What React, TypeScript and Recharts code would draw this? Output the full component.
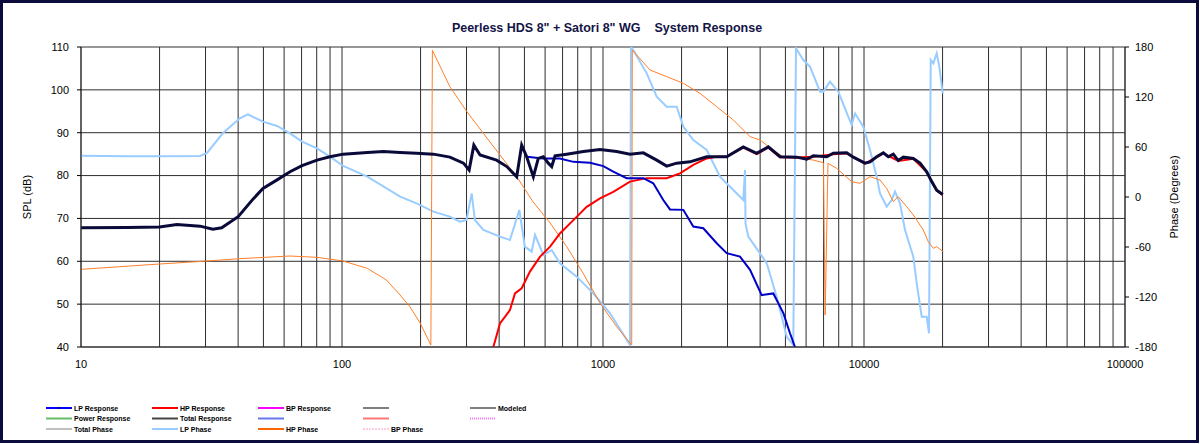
import React from "react";
import { LineChart, Line, XAxis, YAxis, CartesianGrid, Label } from "recharts";

// grid lines at every 1..9 step of each decade, labels only on the decades
const gridFreqs = [
  10, 20, 30, 40, 50, 60, 70, 80, 90,
  100, 200, 300, 400, 500, 600, 700, 800, 900,
  1000, 2000, 3000, 4000, 5000, 6000, 7000, 8000, 9000,
  10000, 20000, 30000, 40000, 50000, 60000, 70000, 80000, 90000,
  100000,
];
const decadeLabels = [10, 100, 1000, 10000, 100000];
const splTicks = [40, 50, 60, 70, 80, 90, 100, 110];
const phaseTicks = [-180, -120, -60, 0, 60, 120, 180];

// Total Response (dB)
const totalFreq = [
  10, 15, 20, 23.3, 28.6, 32, 34.6, 40, 45.6, 49.8, 56.4, 63.2, 70.3, 80.2, 89.9,
  101, 125, 144, 167, 193, 224, 259, 292, 307, 320, 338, 391, 428, 467, 488, 510,
  541, 565, 591, 617, 636, 655, 726, 841, 974, 1128, 1269, 1427, 1606, 1754, 1916,
  2154, 2497, 2978, 3447, 3880, 4300, 4768, 5522, 6034, 6395, 7197, 7628, 8583,
  9099, 10087, 10544, 11186, 11855, 12390, 12950, 13533, 14145, 15451, 16393,
  17389, 18174, 18993, 20027,
];
const totalSpl = [
  67.8, 67.9, 68.0, 68.6, 68.2, 67.5, 67.8, 70.4, 74.5, 77.0, 79.0, 80.9, 82.3, 83.6, 84.4,
  85.0, 85.4, 85.6, 85.4, 85.2, 85.0, 84.3, 82.9, 81.3, 87.1, 84.8, 83.6, 82.1, 79.7, 87.1, 84.4,
  79.7, 84.0, 84.4, 82.9, 82.1, 84.6, 85.0, 85.6, 86.1, 85.6, 85.0, 85.3, 83.6, 82.2, 82.9,
  83.2, 84.4, 84.4, 86.7, 85.2, 86.7, 84.4, 84.3, 83.8, 84.6, 84.4, 85.2, 85.3,
  84.3, 82.9, 83.2, 84.4, 85.3, 84.4, 85.0, 83.5, 84.3, 84.0, 82.9,
  80.9, 78.6, 76.6, 75.6,
];

// LP Response (dB)
const lpFreq = [
  510, 565, 591, 684, 770, 892, 1003, 1095, 1232, 1427, 1558, 1702, 1806, 2031, 2218,
  2423, 2727, 2978, 3349, 3659, 4055, 4494, 4909, 5206, 5440,
];
const lpSpl = [
  84.4, 84.1, 84.0, 84.0, 83.2, 83.0, 82.2, 80.9, 79.4, 79.4, 78.2, 74.3, 72.1, 72.0, 68.1,
  67.7, 64.2, 61.9, 61.1, 58.0, 52.1, 52.5, 47.9, 43.2, 40.0,
];

// HP Response (dB)
const hpFreq = [
  380, 403, 440, 460, 488, 525, 574, 627, 684, 770, 866, 974, 1095, 1269, 1471, 1754,
  1972, 2218, 2497, 2727, 2978, 3447, 3880, 4300, 4768, 5522, 6395, 7628, 8583,
  10087, 11855, 13533, 15451, 17389, 18993, 20027,
];
const hpSpl = [
  40.0, 45.5, 48.6, 52.5, 53.7, 57.6, 61.1, 63.4, 66.5, 69.6, 72.7, 74.7, 76.2, 78.6, 79.4, 79.4,
  80.5, 82.5, 84.0, 84.4, 84.4, 86.5, 85.0, 86.5, 84.3, 84.2, 84.4, 85.0, 85.2,
  82.8, 85.2, 83.4, 83.9, 80.8, 76.5, 75.5,
];

// LP Phase (degrees)
const lpPhaseFreq = [
  10, 15, 20, 28.6, 30.4, 35, 40.6, 43.6, 49.8, 56.4, 63.2, 70.3, 80.2, 89.9, 101, 125,
  167, 193, 224, 259, 283, 300, 314, 323, 348, 403, 440, 478, 502, 533, 549, 591, 636,
  684, 793, 918, 1064, 1269, 1280, 1306, 1471, 1606, 1754, 1916, 2031, 2218, 2497,
  2807, 3157, 3447, 3500, 3516, 3603, 3995, 4240, 4630, 5056, 5358, 5489, 5854, 6212,
  6783, 6985, 7409, 7971, 8455, 8972, 9237, 9938, 10544, 11186, 11516, 12218, 12767,
  13146, 13737, 14359, 15451, 15921, 16641, 17389, 17744, 18016, 18432, 18993, 19435,
  20027,
];
const lpPhaseDeg = [
  49.6, 49.0, 49.0, 49.2, 53, 76.8, 94.4, 99.2, 90.4, 85.2, 76.4, 66.4, 58.4, 48.4, 37.2, 24.4,
  0.4, -7.6, -17.6, -23.6, -29.6, -27.6, 4.4, -27.6, -39.6, -47.6, -51.6, -15.6, -59.6, -65.6, -45.6, -69.6, -63.6,
  -79.6, -95.6, -115.6, -139.6, -177.6, 180, 176.4, 148.4, 120.4, 108.4, 108.4, 84.4, 68.4, 56.4,
  24.4, 8.4, -3.6, 32.4, -31.6, -47.6, -67.6, -79.6, -119.6, -167.6, -177.6, 178.4, 164.4, 156.4,
  126.4, 126.4, 138.4, 126.4, 106.4, 86.4, 100.4, 84.4, 56.4, 24.4, 4.4, -11.6, -3.6,
  6.4, -7.6, -39.6, -71.6, -103.6, -143.6, -143.6, -163.6, 164.4, 160.4, 172.4, 156.4,
  124.4,
];

// HP Phase (degrees)
const hpPhaseFreq = [
  10, 20, 30.4, 40.6, 63.2, 80.2, 101, 125, 148, 167, 182, 199, 219, 222, 259, 301, 348,
  403, 467, 539, 627, 726, 838, 974, 1128, 1288, 1295, 1514, 1754, 2032, 2351, 2727,
  3159, 3659, 3998, 4480, 4893, 5667, 6383, 6987, 7100, 7276, 7856, 8967, 9654, 10544,
  11516, 12213, 12947, 13526, 14578, 15452, 16873, 17630, 18440, 18980, 20120,
];
const hpPhaseDeg = [
  -86.8, -80.4, -76.8, -74.0, -70.8, -72.4, -76.8, -85.6, -99.6, -117.6, -131.6, -151, -177.6, 176, 132.4, 102.4, 76.4,
  50.4, 24.4, -5.6, -31.2, -59.6, -91.2, -127.2, -155.6, -177.6, 176.4, 152.4, 144.4, 136.4, 124.4, 108.4,
  92.4, 72.4, 68.4, 56.4, 48.4, 46.4, 44.4, 41.2, -141.6, 40.4, 34.4, 18.4, 16.4, 24.4,
  20.4, 10.4, -5.6, 0.4, -11.6, -21.6, -39.6, -53.6, -61.6, -59.6, -65.6,
];

const toPoints = (freqs: number[], vals: number[]) =>
  freqs.map((f, i) => ({ f, v: vals[i] }));

const totalData = toPoints(totalFreq, totalSpl);
const lpData = toPoints(lpFreq, lpSpl);
const hpData = toPoints(hpFreq, hpSpl);
const lpPhaseData = toPoints(lpPhaseFreq, lpPhaseDeg);
const hpPhaseData = toPoints(hpPhaseFreq, hpPhaseDeg);

// legend entries, laid out in 5 columns x 3 rows like the Excel sheet
const legendItems = [
  { col: 0, row: 0, label: "LP Response", color: "#0000ff", dot: true },
  { col: 1, row: 0, label: "HP Response", color: "#ff0000" },
  { col: 2, row: 0, label: "BP Response", color: "#ff00ff" },
  { col: 3, row: 0, label: "", color: "#808080" },
  { col: 4, row: 0, label: "Modeled", color: "#808080" },
  { col: 0, row: 1, label: "Power Response", color: "#66bb66" },
  { col: 1, row: 1, label: "Total Response", color: "#444444" },
  { col: 2, row: 1, label: "", color: "#6677ee" },
  { col: 3, row: 1, label: "", color: "#ff7777" },
  { col: 4, row: 1, label: "", color: "#ff77ff", dash: "1 1" },
  { col: 0, row: 2, label: "Total Phase", color: "#808080", thin: true },
  { col: 1, row: 2, label: "LP Phase", color: "#99ccff" },
  { col: 2, row: 2, label: "HP Phase", color: "#ff6600" },
  { col: 3, row: 2, label: "BP Phase", color: "#ff99cc", dash: "2 1", thin: true },
];
const legendColX = [46, 152, 258, 363, 470];
const legendRowY = [408, 418.5, 429];

const font = "'Liberation Sans', Arial, sans-serif";
const tickStyle = { fontFamily: font, fontSize: 11, fill: "#000" };
const gridColor = "#2e2e2e";

export default function App() {
  return (
    <div style={{ position: "absolute", left: 0, top: 0, width: 1200, height: 444, background: "#fff" }}>
      <LineChart width={1200} height={444} margin={{ top: 47, right: 0, bottom: 67, left: 0 }}>
        <CartesianGrid yAxisId="spl" stroke={gridColor} strokeWidth={1} />
        <XAxis
          dataKey="f"
          type="number"
          scale="log"
          domain={[10, 100000]}
          allowDataOverflow
          ticks={gridFreqs}
          interval={0}
          tickFormatter={(v: number) => (decadeLabels.includes(v) ? String(v) : "")}
          tick={tickStyle}
          tickLine={false}
          tickSize={0}
          tickMargin={13}
          axisLine={{ stroke: gridColor }}
          height={30}
        />
        <XAxis
          xAxisId="top"
          orientation="top"
          dataKey="f"
          type="number"
          scale="log"
          domain={[10, 100000]}
          allowDataOverflow
          ticks={decadeLabels}
          interval={0}
          tick={false}
          tickSize={4}
          tickLine={{ stroke: "#000" }}
          axisLine={false}
          height={0}
        />
        <YAxis
          yAxisId="spl"
          domain={[40, 110]}
          ticks={splTicks}
          interval={0}
          allowDataOverflow
          width={81}
          tick={tickStyle}
          tickSize={4}
          tickMargin={8}
          tickLine={{ stroke: "#000" }}
          axisLine={{ stroke: gridColor }}
        >
          <Label
            value="SPL (dB)"
            angle={-90}
            position="insideLeft"
            offset={27}
            style={{ textAnchor: "middle", fontFamily: font, fontSize: 11, fill: "#000" }}
          />
        </YAxis>
        <YAxis
          yAxisId="phase"
          orientation="right"
          domain={[-180, 180]}
          ticks={phaseTicks}
          interval={0}
          allowDataOverflow
          width={75}
          tick={tickStyle}
          tickSize={4}
          tickMargin={6}
          tickLine={{ stroke: "#000" }}
          axisLine={{ stroke: gridColor }}
        >
          <Label
            value="Phase (Degrees)"
            angle={-90}
            position="insideRight"
            offset={26}
            style={{ textAnchor: "middle", fontFamily: font, fontSize: 11, fill: "#000" }}
          />
        </YAxis>

        <Line data={lpPhaseData} yAxisId="phase" dataKey="v" name="LP Phase" type="linear"
          stroke="#99ccff" strokeWidth={2} dot={false} isAnimationActive={false} />
        <Line data={hpPhaseData} yAxisId="phase" dataKey="v" name="HP Phase" type="linear"
          stroke="#ff7f2a" strokeWidth={1} dot={false} isAnimationActive={false} />
        <Line data={hpData} yAxisId="spl" dataKey="v" name="HP Response" type="linear"
          stroke="#ff0000" strokeWidth={2} dot={false} isAnimationActive={false} />
        <Line data={lpData} yAxisId="spl" dataKey="v" name="LP Response" type="linear"
          stroke="#0000c8" strokeWidth={2} dot={false} isAnimationActive={false} />
        <Line data={totalData} yAxisId="spl" dataKey="v" name="Total Response" type="linear"
          stroke="#0a0a3a" strokeWidth={3} dot={false} isAnimationActive={false} />
      </LineChart>

      <svg width={1200} height={444} style={{ position: "absolute", left: 0, top: 0, pointerEvents: "none" }}>
        <text x={607} y={32} textAnchor="middle" fontFamily={font} fontSize={12.5} fontWeight="bold"
          fill="#141446" style={{ whiteSpace: "pre" }}>
          {'Peerless HDS 8" + Satori 8" WG    System Response'}
        </text>
        {legendItems.map((it, i) => {
          const x = legendColX[it.col];
          const y = legendRowY[it.row];
          return (
            <g key={i}>
              <line x1={x} x2={x + 26} y1={y} y2={y} stroke={it.color}
                strokeWidth={it.thin ? 1 : 2} strokeDasharray={it.dash} />
              {it.dot && <rect x={x + 12} y={y - 1} width={2} height={2} fill="#000080" />}
              {it.label && (
                <text x={x + 28} y={y + 2.5} fontFamily={font} fontSize={7} fontWeight="bold" fill="#000">
                  {it.label}
                </text>
              )}
            </g>
          );
        })}
      </svg>

      <div style={{
        position: "absolute", left: 0, top: 0, width: 1199, height: 443, boxSizing: "border-box",
        border: "3px solid #0b0b3d", pointerEvents: "none",
      }} />
    </div>
  );
}
